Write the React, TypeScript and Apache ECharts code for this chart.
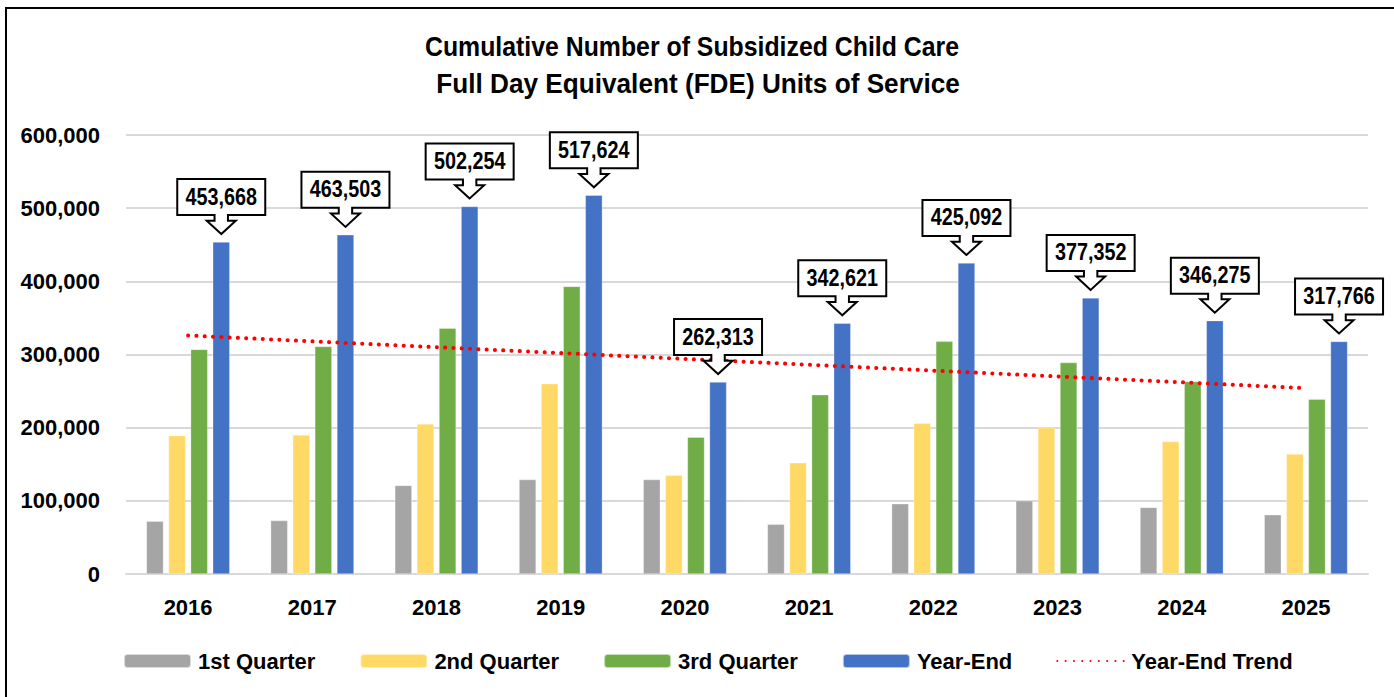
import React, { useEffect, useRef } from "react";
import * as echarts from "echarts";

const years = ["2016", "2017", "2018", "2019", "2020", "2021", "2022", "2023", "2024", "2025"];
const q1 = [72000, 73000, 121000, 129000, 129000, 68000, 96000, 100000, 91000, 81000];
const q2 = [189000, 190000, 205000, 260000, 135000, 152000, 206000, 200000, 181000, 164000];
const q3 = [307000, 311000, 336000, 393000, 187000, 245000, 318000, 289000, 263000, 239000];
const yearEnd = [453668, 463503, 502254, 517624, 262313, 342621, 425092, 377352, 346275, 317766];
const trend = [326000, 318000, 310000, 302000, 294000, 286000, 278000, 270000, 262000, 254000];
const titleLines = ["Cumulative Number of Subsidized Child Care", "Full Day Equivalent (FDE) Units of Service"];
const titleScale = [0.92, 0.97];

const FONT = "'Liberation Sans', Arial, sans-serif";
const BAR_W = 17;
const BAR_GAP = 0.3;

const fmt = (v: number) => v.toLocaleString("en-US");

export default function App() {
  const ref = useRef<HTMLDivElement>(null);
  useEffect(() => {
    if (!ref.current) return;
    const chart = echarts.init(ref.current, undefined, { renderer: "svg" });
    const barCommon = {
      type: "bar",
      barWidth: BAR_W,
      barGap: BAR_GAP * 100 + "%",
      itemStyle: { borderColor: "rgba(255,255,255,0.6)", borderWidth: 0.5 },
    };
    const labelFont = { fontFamily: FONT, fontWeight: "bold", fontSize: 22, color: "#000" };
    chart.setOption({
      animation: false,
      backgroundColor: "#ffffff",
      graphic: [
        {
          type: "polyline",
          shape: { points: [[6, 720], [6, 8], [1420, 8]] },
          style: { stroke: "#000", lineWidth: 2, fill: "none" },
          silent: true,
        },
        ...titleLines.map((t, i) => ({
          type: "text",
          x: 692 + i * 6,
          y: 47 + i * 37,
          scaleX: titleScale[i],
          silent: true,
          style: {
            text: t,
            fontFamily: FONT,
            fontWeight: "bold",
            fontSize: 27,
            fill: "#000",
            align: "center",
            verticalAlign: "middle",
          },
        })),
      ],
      legend: {
        left: 123,
        top: 650,
        padding: 0,
        itemWidth: 67,
        itemHeight: 14,
        itemGap: 44,
        textStyle: { ...labelFont, padding: [0, 0, 0, 2] },
        data: [
          "1st Quarter",
          "2nd Quarter",
          "3rd Quarter",
          "Year-End",
          { name: "Year-End Trend", itemStyle: { opacity: 0 } },
        ],
      },
      grid: { left: 126, right: 26, top: 135, bottom: 123, containLabel: false },
      xAxis: {
        type: "category",
        data: years,
        axisTick: { show: false },
        axisLine: { lineStyle: { color: "#d9d9d9", width: 2 } },
        axisLabel: { ...labelFont, margin: 22 },
      },
      yAxis: {
        type: "value",
        min: 0,
        max: 600000,
        interval: 100000,
        axisLine: { show: false },
        axisTick: { show: false },
        splitLine: { lineStyle: { color: "#d9d9d9", width: 2 } },
        axisLabel: { ...labelFont, margin: 26, formatter: (v: number) => fmt(v) },
      },
      series: [
        { ...barCommon, name: "1st Quarter", data: q1, itemStyle: { ...barCommon.itemStyle, color: "#a5a5a5" } },
        { ...barCommon, name: "2nd Quarter", data: q2, itemStyle: { ...barCommon.itemStyle, color: "#ffd966" } },
        { ...barCommon, name: "3rd Quarter", data: q3, itemStyle: { ...barCommon.itemStyle, color: "#70ad47" } },
        { ...barCommon, name: "Year-End", data: yearEnd, itemStyle: { ...barCommon.itemStyle, color: "#4472c4" } },
        {
          name: "Year-End Trend",
          type: "line",
          data: trend,
          symbol: "none",
          z: 5,
          lineStyle: { color: "#ff0000", width: 4, type: [0.1, 8.2], cap: "round" },
          itemStyle: { color: "#ff0000" },
        },
        {
          name: "callouts",
          type: "custom",
          z: 10,
          clip: false,
          data: yearEnd.map((v, i) => [i, v]),
          renderItem: (params: any, api: any) => {
            const pt = api.coord([api.value(0), api.value(1)]);
            const offset = 1.5 * (BAR_W + BAR_W * BAR_GAP);
            const cx = pt[0] + offset;
            const ty = pt[1] - 8;
            const pts = [
              [0, 0], [-14.5, -13.3], [-6.7, -13.3], [-6.7, -19], [-44, -19], [-44, -55],
              [44, -55], [44, -19], [6.7, -19], [6.7, -13.3], [14.5, -13.3],
            ].map(([x, y]) => [cx + x, ty + y]);
            return {
              type: "group",
              children: [
                { type: "polygon", shape: { points: pts }, style: { fill: "#fff", stroke: "#000", lineWidth: 2 } },
                {
                  type: "text",
                  x: cx,
                  y: ty - 37,
                  scaleX: 0.86,
                  style: {
                    text: fmt(api.value(1)),
                    fontFamily: FONT,
                    fontWeight: "bold",
                    fontSize: 23,
                    fill: "#000",
                    align: "center",
                    verticalAlign: "middle",
                  },
                },
              ],
            };
          },
        },
      ],
    });
    return () => chart.dispose();
  }, []);
  return <div ref={ref} style={{ position: "fixed", left: 0, top: 0, width: 1394, height: 697 }} />;
}
